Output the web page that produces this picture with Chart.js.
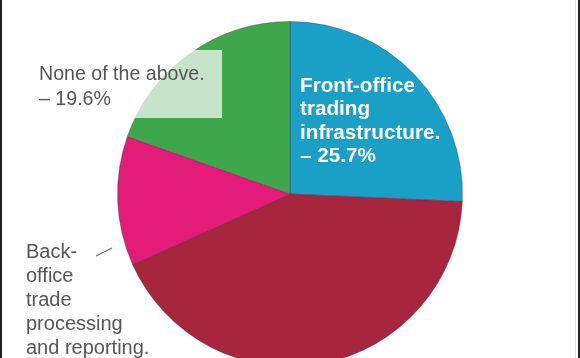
<!DOCTYPE html>
<html>
<head>
<meta charset="utf-8">
<script src="https://cdn.jsdelivr.net/npm/chart.js@4"></script>
<style>
  html, body { margin: 0; padding: 0; background: #fff; overflow: hidden; }
  #wrap { width: 580px; height: 358px; overflow: hidden; position: relative; }
</style>
</head>
<body>
<div id="wrap"><canvas id="pie" width="580" height="400"></canvas></div>
<script>
// categories and values, clockwise from 12 o'clock
var categories = ['Front-office trading infrastructure.', 'Other', 'Back-office trade processing and reporting.', 'None of the above.'];
var shares = [25.7, 42.6, 12.1, 19.6];
var sliceColors = ['#1a9fc6', '#a8253e', '#e31b79', '#3ea64b'];

// text labels as they are broken in the picture
var frontLines = ['Front-office', 'trading', 'infrastructure.', '– 25.7%'];
var noneLines = ['None of the above.', '– 19.6%'];
var backLines = ['Back-', 'office', 'trade', 'processing', 'and reporting.'];

var labelsPlugin = {
  id: 'labels',
  afterDraw: function (chart) {
    var ctx = chart.ctx;
    ctx.save();
    // translucent box behind "None of the above."
    ctx.fillStyle = 'rgba(255,255,255,0.7)';
    ctx.fillRect(30, 50, 192, 68);

    ctx.textBaseline = 'middle';
    ctx.textAlign = 'left';
    ctx.fillStyle = '#555';
    ctx.font = '19.6px "Liberation Sans", Arial, sans-serif';
    for (let i in noneLines) {
      ctx.fillText(noneLines[i], 39, 75 + i * 25);
    }

    ctx.fillStyle = '#fff';
    ctx.font = 'bold 20.7px "Liberation Sans", Arial, sans-serif';
    for (let i in frontLines) {
      ctx.fillText(frontLines[i], 300, 86 + i * 23.5);
    }

    ctx.fillStyle = '#555';
    ctx.font = '20px "Liberation Sans", Arial, sans-serif';
    for (let i in backLines) {
      ctx.fillText(backLines[i], 26, 252 + i * 24);
    }
    // leader line
    ctx.strokeStyle = '#444';
    ctx.lineWidth = 1;
    ctx.beginPath();
    ctx.moveTo(96, 256);
    ctx.lineTo(112, 248);
    ctx.stroke();

    // frame
    ctx.fillStyle = '#222';
    ctx.fillRect(0, 0, 2, 358);
    ctx.fillRect(578, 0, 2, 358);
    ctx.fillStyle = '#e6e6e6';
    ctx.fillRect(575, 0, 1, 358);
    ctx.restore();
  }
};

var pie = new Chart('pie', {
  type: 'pie',
  data: {
    labels: categories,
    datasets: [{
      data: shares,
      backgroundColor: sliceColors,
      borderColor: 'rgba(70,40,50,0.35)',
      borderWidth: 1
    }]
  },
  options: {
    responsive: false,
    animation: false,
    devicePixelRatio: 1,
    layout: { padding: { top: 21, bottom: 400 - 367 } },
    plugins: { legend: { display: false }, tooltip: { enabled: false }, title: { display: false } }
  },
  plugins: [labelsPlugin]
});
</script>
</body>
</html>
